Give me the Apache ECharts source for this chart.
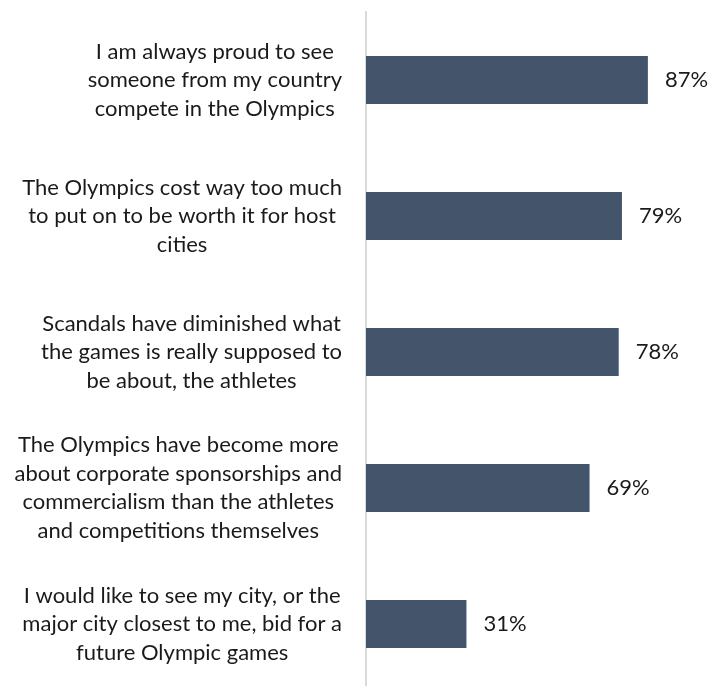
<!DOCTYPE html>
<html>
<head>
<meta charset="utf-8">
<script src="https://cdn.jsdelivr.net/npm/echarts@6/dist/echarts.min.js"></script>
<style>
html,body{margin:0;padding:0;background:#fff;}
#main{width:713px;height:686px;}
</style>
</head>
<body>
<div id="main"></div>
<script>
const categories = [
  "I am always proud to see\nsomeone from my country\ncompete in the Olympics",
  "The Olympics cost way too much\nto put on to be worth it for host\ncities",
  "Scandals have diminished what\nthe games is really supposed to\nbe about, the athletes",
  "The Olympics have become more\nabout corporate sponsorships and\ncommercialism than the athletes\nand competitions themselves",
  "I would like to see my city, or the\nmajor city closest to me, bid for a\nfuture Olympic games"
];
const values = [87, 79, 78, 69, 31];

const FONT = 'Lato';
const chart = echarts.init(document.getElementById('main'));
chart.setOption({
  animation: false,
  backgroundColor: '#fff',
  grid: { left: 366, right: 23, top: 12, height: 680, containLabel: false, outerBoundsMode: 'none' },
  xAxis: {
    type: 'value', min: 0, max: 100, show: false
  },
  yAxis: {
    type: 'category',
    data: categories,
    inverse: true,
    axisLine: { show: true, lineStyle: { color: '#d9d9d9', width: 2 } },
    axisTick: { show: false },
    splitLine: { show: false },
    axisLabel: {
      margin: 24,
      align: 'right',
      formatter: v => '{a|' + v + '}',
      rich: {
        a: { align: 'center', fontFamily: FONT, fontSize: 22, lineHeight: 28.5, color: '#1a1a1a' }
      }
    }
  },
  series: [{
    type: 'bar',
    data: values,
    barWidth: 48,
    itemStyle: { color: '#44546A' },
    label: {
      show: true,
      position: 'right',
      distance: 17,
      formatter: '{c}%',
      fontFamily: FONT,
      fontSize: 22,
      color: '#1a1a1a'
    }
  }]
});
</script>
</body>
</html>
